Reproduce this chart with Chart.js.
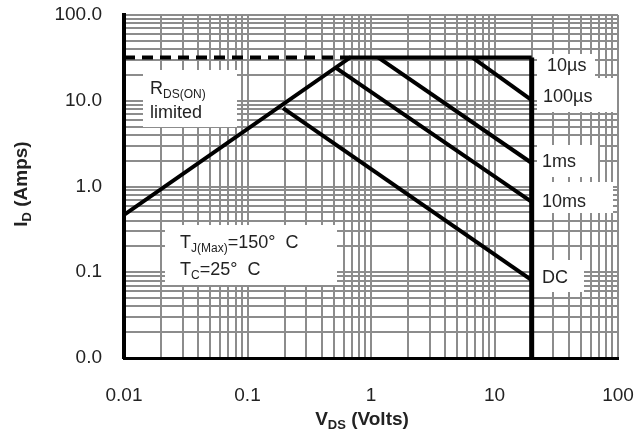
<!DOCTYPE html>
<html>
<head>
<meta charset="utf-8">
<script src="https://cdn.jsdelivr.net/npm/chart.js@4.4.1/dist/chart.umd.min.js"></script>
<style>
  html, body { margin: 0; padding: 0; background: #fff; }
</style>
</head>
<body>
<canvas id="soa" width="635" height="434"></canvas>
<script>
// ---------------------------------------------------------
// Safe operating area: V_DS (volts) vs I_D (amps), log-log
// ---------------------------------------------------------
const xTickVals   = [0.01, 0.1, 1, 10, 100];
const xTickLabels = ['0.01', '0.1', '1', '10', '100'];
const yTickVals   = [0.01, 0.1, 1, 10, 100];
const yTickLabels = ['0.0', '0.1', '1.0', '10.0', '100.0'];

// boundary: RDS(on) line, then current limit
const rdsV   = [0.01, 0.68, 20];
const rdsI   = [0.466, 32, 32];
const dashV  = [0.01, 0.68];
const dashI  = [32, 32];
const vmaxV  = [20, 20];
const vmaxI  = [32, 0.01];
const dcV    = [0.194, 20];
const dcI    = [8.2, 0.081];
const ms10V  = [0.52, 20];
const ms10I  = [24.2, 0.66];
const ms1V   = [1.14, 20];
const ms1I   = [32, 1.88];
const us100V = [6.6, 20];
const us100I = [32, 10.2];

const FONT = 'Arial, "Liberation Sans", sans-serif';
const TXT  = '#222';
const GRID = '#8c8c8c';

const pts = (v, i) => v.map((x, k) => ({ x: x, y: i[k] }));

// minor grid: 1..9 per decade
function decadeTicks(lo, hi) {
    const out = [];
    for (let e = lo; e < hi; e++) {
        for (let m = 1; m <= 9; m++) out.push(Number((m * Math.pow(10, e)).toPrecision(3)));
    }
    out.push(Math.pow(10, hi));
    return out;
}

function labelFor(vals, labels, v) {
    const i = vals.findIndex(t => Math.abs(t - v) / t < 1e-6);
    return i >= 0 ? labels[i] : '';
}

function line(data, opts = {}) {
    return Object.assign({
        data: data, borderColor: '#000', borderWidth: 4,
        pointRadius: 0, fill: false, tension: 0
    }, opts);
}

// text with subscripts, parts = [[text, isSub], ...]
function richWidth(ctx, parts, size, bold) {
    let w = 0;
    parts.forEach(([t, sub]) => {
        ctx.font = `${bold ? 'bold ' : ''}${sub ? Math.round(size * 0.68) : size}px ${FONT}`;
        w += ctx.measureText(t).width;
    });
    return w;
}
function drawRich(ctx, x, y, parts, size, bold) {
    let cx = x;
    parts.forEach(([t, sub]) => {
        ctx.font = `${bold ? 'bold ' : ''}${sub ? Math.round(size * 0.68) : size}px ${FONT}`;
        ctx.fillText(t, cx, sub ? y + size * 0.3 : y);
        cx += ctx.measureText(t).width;
    });
}

// white boxes behind the notes and curve names
const boxes = [
    [143, 70, 94, 57],
    [165, 225, 172, 60],
    [537, 54, 58, 24],
    [537, 78, 80, 34],
    [537, 145, 61, 32],
    [533, 182, 80, 31],
    [533, 260, 51, 32]
];
const curveNames = [
    ['10\u00b5s', 547, 66],
    ['100\u00b5s', 543, 97],
    ['1ms', 542, 162],
    ['10ms', 542, 202],
    ['DC', 542, 278]
];

const notes = {
    id: 'notes',
    beforeDatasetsDraw(chart) {
        const ctx = chart.ctx;
        ctx.save();
        ctx.fillStyle = '#fff';
        boxes.forEach(b => ctx.fillRect(b[0], b[1], b[2], b[3]));
        ctx.restore();
    },
    afterDraw(chart) {
        const ctx = chart.ctx;
        ctx.save();
        ctx.fillStyle = TXT;
        ctx.textBaseline = 'middle';
        ctx.textAlign = 'left';

        curveNames.forEach(([t, x, y]) => {
            ctx.font = `18px ${FONT}`;
            ctx.fillText(t, x, y);
        });

        drawRich(ctx, 150, 89, [['R', false], ['DS(ON)', true]], 18, false);
        ctx.font = `18px ${FONT}`;
        ctx.fillText('limited', 150, 113);

        drawRich(ctx, 180, 243, [['T', false], ['J(Max)', true], ['=150\u00b0  C', false]], 18, false);
        drawRich(ctx, 180, 270, [['T', false], ['C', true], ['=25\u00b0  C', false]], 18, false);

        // axis titles
        const xt = [['V', false], ['DS', true], [' (Volts)', false]];
        const xw = richWidth(ctx, xt, 19, true);
        drawRich(ctx, 362 - xw / 2, 420, xt, 19, true);

        const yt = [['I', false], ['D', true], [' (Amps)', false]];
        ctx.translate(22, 184);
        ctx.rotate(-Math.PI / 2);
        const yw = richWidth(ctx, yt, 19, true);
        drawRich(ctx, -yw / 2, 0, yt, 19, true);
        ctx.restore();
    }
};

new Chart(document.getElementById('soa'), {
    type: 'line',
    data: {
        datasets: [
            line(pts(rdsV, rdsI)),
            line(pts(dashV, dashI), { borderDash: [11, 7] }),
            line(pts(vmaxV, vmaxI), { borderWidth: 5 }),
            line(pts(dcV, dcI)),
            line(pts(ms10V, ms10I)),
            line(pts(ms1V, ms1I)),
            line(pts(us100V, us100I))
        ]
    },
    options: {
        responsive: false,
        animation: false,
        events: [],
        layout: { padding: { top: 15, right: 17, left: 0, bottom: 0 } },
        plugins: { legend: { display: false }, tooltip: { enabled: false } },
        scales: {
            x: {
                type: 'logarithmic',
                min: 0.01, max: 100,
                afterBuildTicks: s => { s.ticks = decadeTicks(-2, 2).map(v => ({ value: v })); },
                // fixed band under the plot; label overhang handled by layout padding
                afterFit: s => { s.height = 76; s.paddingLeft = 0; s.paddingRight = 0; },
                grid: { color: GRID, lineWidth: 2, drawTicks: false },
                border: { display: true, color: '#000', width: 3 },
                ticks: {
                    autoSkip: false, maxRotation: 0, padding: 26,
                    color: TXT, font: { family: FONT, size: 19 },
                    callback: v => labelFor(xTickVals, xTickLabels, v)
                }
            },
            y: {
                type: 'logarithmic',
                min: 0.01, max: 100,
                afterBuildTicks: s => { s.ticks = decadeTicks(-2, 2).map(v => ({ value: v })); },
                afterFit: s => { s.width = 124; s.paddingTop = 0; s.paddingBottom = 0; },
                grid: { color: GRID, lineWidth: 2, drawTicks: false },
                border: { display: true, color: '#000', width: 4 },
                ticks: {
                    autoSkip: false, padding: 22,
                    color: TXT, font: { family: FONT, size: 19 },
                    callback: v => labelFor(yTickVals, yTickLabels, v)
                }
            }
        }
    },
    plugins: [notes]
});
</script>
</body>
</html>
